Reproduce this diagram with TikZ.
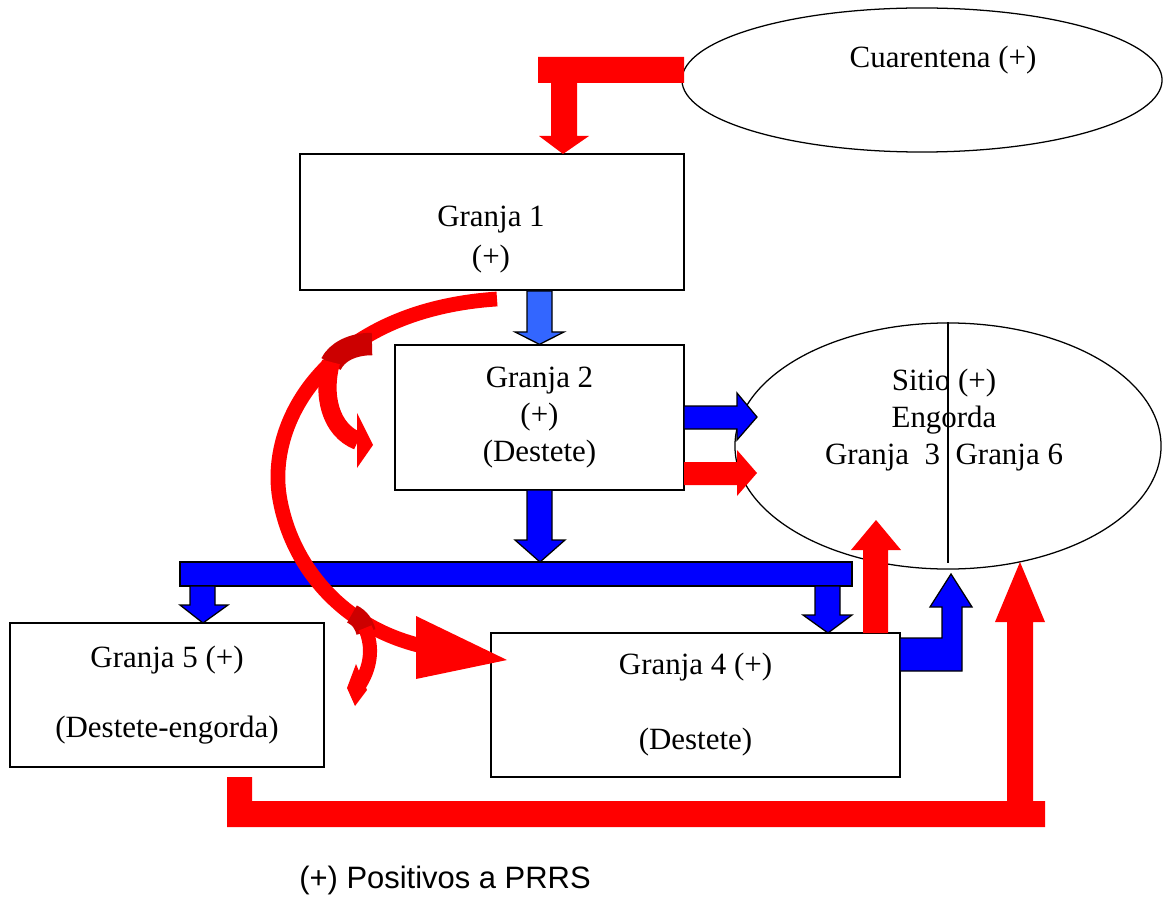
\documentclass[tikz,border=0pt]{standalone}
\usepackage{fontspec}
\setmainfont{Liberation Serif}
\setsansfont{Liberation Sans}
\usetikzlibrary{shapes.geometric}
\definecolor{lightflow}{RGB}{51,102,255}
\definecolor{darkflow}{RGB}{204,0,0}
\newcommand{\diagfont}{\fontsize{22}{26.4}\selectfont}

\begin{document}
\begin{tikzpicture}[x=0.025cm, y=-0.025cm, every node/.style={font=\diagfont, align=center},
	box/.style={draw, line width=0.9pt, inner sep=0pt},
	field/.style={draw, ellipse, line width=0.9pt, inner sep=0pt},
	redflow/.style={fill=red},
	blueflow/.style={fill=blue, draw=black, line width=0.9pt}]
	\useasboundingbox (0,0) rectangle (1164,899);
	% farms and sites
	\node[field, minimum width=12cm, minimum height=3.6cm] (cuar) at (922,80) {};
	\node (cuartxt) at (943,60) {Cuarentena (+)};
	\node[box, minimum width=9.6cm, minimum height=3.4cm] (g1) at (492,222) {};
	\node (g1txt) at (491,240) {Granja 1\\[2pt](+)};
	\node[box, minimum width=7.225cm, minimum height=3.625cm] (g2) at (539.5,417.5) {Granja 2\\(+)\\(Destete)};
	\node[field, minimum width=10.65cm, minimum height=6.15cm] (sitio) at (948,446) {};
	\draw[line width=0.9pt] (sitio.north) -- (948,563);
	\node (sitiotxt) at (944,420) {Sitio (+)\\Engorda\\Granja\ \ 3\ \ Granja 6};
	\node[box, minimum width=7.85cm, minimum height=3.6cm] (g5) at (167,695) {Granja 5 (+)\\[23pt](Destete-engorda)};
	\node[box, minimum width=10.225cm, minimum height=3.6cm] (g4) at (695.5,705) {Granja 4 (+)\\[27pt](Destete)};
	% blue flows
	\fill[lightflow, draw=black, line width=0.9pt] (527,291) -- (527,332) -- (515,332) -- (g2.north) -- (564,332) -- (552,332) -- (552,291) -- cycle;
	\path[blueflow] (684,406) -- (737,406) -- (737,393) -- (757,417) -- (737,440) -- (737,429) -- (684,429) -- cycle;
	\path[blueflow] (527,490) -- (527,540) -- (515,540) -- (540,562) -- (565,540) -- (552,540) -- (552,490) -- cycle;
	\path[blueflow] (180,562) rectangle (852,586);
	\path[blueflow] (190,586) -- (190,605) -- (180,605) -- (203,623) -- (228,605) -- (215,605) -- (215,586) -- cycle;
	\path[blueflow] (815,586) -- (815,615) -- (803,615) -- (828,633) -- (852,615) -- (840,615) -- (840,586) -- cycle;
	\path[blueflow] (900,638) -- (942,638) -- (942,607) -- (930,607) -- (951,574) -- (972,607) -- (962,607) -- (962,671) -- (900,671) -- cycle;
	% red flows
	\path[redflow] (684,57) -- (538,57) -- (538,83) -- (551,83) -- (551,136) -- (539,136) -- (563,154) -- (589,136) -- (577,136) -- (577,83) -- (684,83) -- cycle;
	\path[redflow] (684,462) -- (737,462) -- (737,450) -- (757,473) -- (737,496) -- (737,485) -- (684,485) -- cycle;
	\path[redflow] (863,633) -- (863,550) -- (851,550) -- (876,520) -- (901,550) -- (888,550) -- (888,633) -- cycle;
	\path[redflow] (227,777) -- (227,827) -- (1045,827) -- (1045,801) -- (1033,801) -- (1033,622) -- (1045,622) -- (1020,562) -- (995,622) -- (1007,622) -- (1007,801) -- (252,801) -- (252,777) -- cycle;
	% curved red flows
	\draw[red, line width=10.5pt] (497,299) .. controls (330,310) and (265,420) .. (280,500) .. controls (292,565) and (340,625) .. (418,645);
	\path[redflow] (416,616) -- (507,660) -- (416,679) -- cycle;
	\draw[darkflow, line width=16pt] (372,344) .. controls (352,344) and (337,352) .. (331,364);
	\draw[red, line width=13pt] (331,362) .. controls (322,395) and (330,430) .. (358,441);
	\path[redflow] (357,413) -- (373,445) -- (357,468) -- cycle;
	\draw[darkflow, line width=14pt] (352,614) .. controls (360,618) and (364,624) .. (366,632);
	\draw[red, line width=10pt] (365,628) .. controls (374,648) and (370,668) .. (360,684);
	\path[redflow] (356,664) -- (347,688) -- (355,706) -- (367,690) -- cycle;
	% legend
	\node[font=\diagfont\sffamily] (legend) at (445,880) {(+) Positivos a PRRS};
\end{tikzpicture}
\end{document}
